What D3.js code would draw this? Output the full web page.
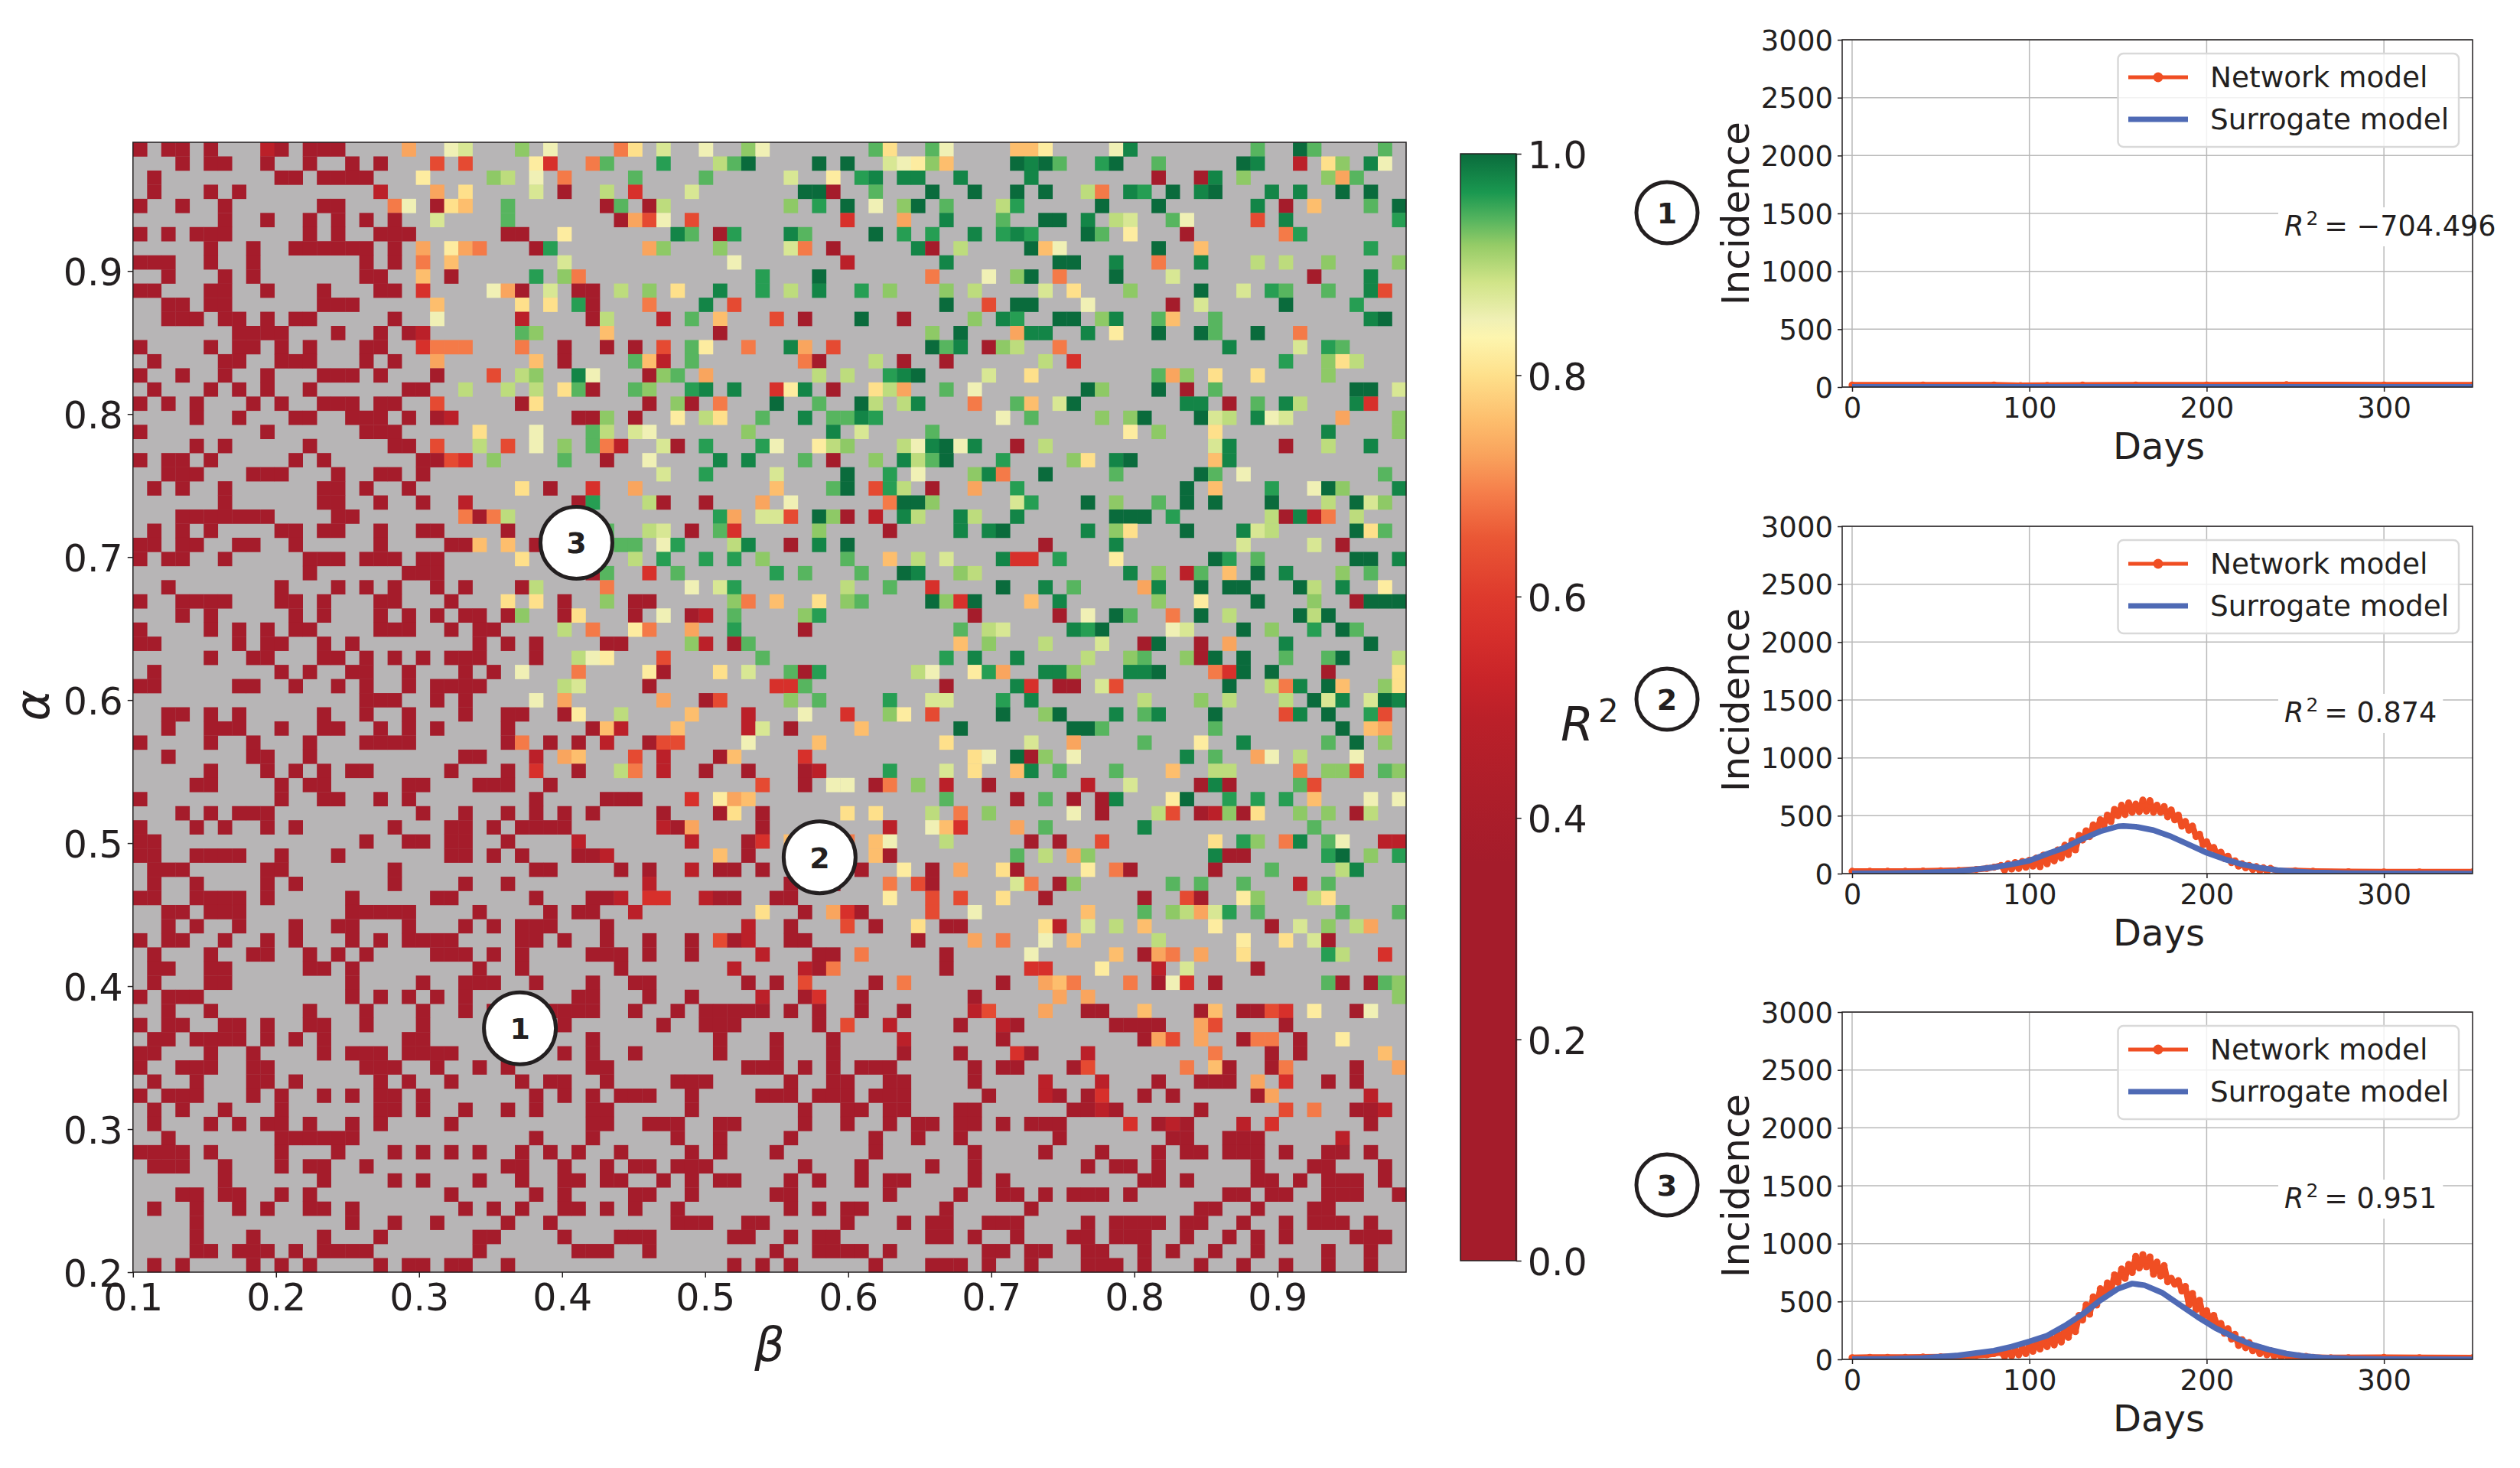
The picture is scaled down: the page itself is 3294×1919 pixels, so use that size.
<!DOCTYPE html>
<html lang="en">
<head>
<meta charset="UTF-8">
<title>R2 map and incidence curves</title>
<script src="https://d3js.org/d3.v7.min.js"></script>
<style>
    html, body { margin: 0; background: #fff; }
    text { font-family: "DejaVu Sans", sans-serif; fill: #231f20; }
</style>
</head>
<body>
<svg id="canvas" width="3294" height="1919"></svg>
<script>
// R2 value of each letter used in the grid rows
const r2Levels = {a:0.2, b:0.49, c:0.57, d:0.63, e:0.69, f:0.73, g:0.76, h:0.8, i:0.82, j:0.85,
                  k:0.875, l:0.895, m:0.92, n:0.94, o:0.96, p:0.98, q:1};

// one string per alpha row, top row first. tokens are column numbers (beta),
// "3-9" is a run, no letter means level a, columns not listed are masked (grey)
const r2Rows = [
"0 2-3 5 9b 10 12-14 19f 22j 23k 27m 29j 34e 35h 37k 40j 43m 44j 52n 53h 56n 57j 62-63g 64i 69j 70p 79n 82q 83n 88n",
"3 5-6 9 12 15 17 21d 23d 28i 29c 32e 33n 37o 41l 42n 43q 48q 50q 53k 54j 55i 56m 57g 62q 63p 64q 65n 68o 69q 72n 78q 79p 82b 84h 85m 87p 88j",
"1 10-11 13-16 20i 25m 26l 28j 30e 35n 40n 46k 49i 51o 52p 54p 55p 58p 63p 72 75 76p 78m 84m 85f 86n",
"1 5 7 17b 21f 23h 28k 30 33l 35c 39k 47-48q 49 52n 56q 59q 62q 64q 67l 68e 70p 71o 73q 75p 76q 80p 82p 85q 87q",
"0 3 6 13-14 18e 19j 21 22h 23g 26n 33 34n 36 37l 46m 48o 50q 52j 54m 55q 57n 61l 62o 68q 72q 79p 81 83g 87n 89q",
"6 9 12 14 16 18 21k 26n 34 35f 36d 37j 39d 50c 54f 57p 61n 64q 65q 67p 69l 70k 73n 74j 79d 81p 89o",
"0 2 4-6 12 14 17-19 26-27 30i 38p 39n 41 42o 46p 47n 52q 54o 56o 59p 61o 62p 63o 67q 68n 70i 74 81e 82o",
"5 8 11-16 18 20f 22i 23f 24e 28 29o 36f 37m 41m 46k 47e 49 55p 56 58l 63q 64g 65j 72q 75g 87o",
"0-2 5 8 16 18 20e 22g 30k 42j 50b 57p 65-66q 69p 72e 75p 79l 81l 84m 89m",
"2 6 8 16-17 20g 22 28o 30m 31e 44o 48q 56e 60j 62m 63q 65e 69q 73k 83 87p",
"0-1 5-6 9 13 17-18 20c 25j 26f 27 29k 31-32 34l 36m 38h 41p 44o 46l 48p 51o 53m 57m 59l 64k 66h 70m 75q 78k 80o 81n 84n 87p 88d",
"2-3 5-6 13-15 21g 27h 29h 31o 32 36e 40p 42d 57q 60d 62q 63q 67j 73 75k 81q 86o",
"2-4 6-7 9 11-12 18 21j 27b 32 33l 37b 39n 41g 45d 47 51q 54 59m 61p 62o 65q 66q 68m 69p 72n 73g 76n 87p 88q",
"7-10 14 17 19 20b 27n 28m 33g 41 56m 58q 62f 63p 64p 67p 69i 72q 75q 76n 79q 82e",
"0 5 7-8 10 12 16-17 20c 21-23e 27e 30 33 35 37d 39n 40i 43e 46p 47f 49d 56q 57n 58p 60 61m 62l 65e 77p 82k 84o 85n",
"1 6-7 10-12 16 18 21f 28g 30 35n 36g 37b 39n 47e 48 52l 54 57 64l 66c 81o 84m 85h 86l",
"0 3 6 9 13-15 17 21 25d 27l 28m 31p 32j 36 37m 38n 40f 48l 50l 53o 54p 55q 60k 63h 72n 73f 74m 76h 79h 84m",
"1 5 7 9 12 19-20 23l 26l 28l 30h 31n 32 35n 36m 39o 40p 42p 45c 46i 47p 49 52h 53l 54f 57n 59j 67q 68m 72q 74 76n 86-87q 89k",
"0 2 4 8 10 13-15 17-18 21d 27 28h 36 38m 39 41e 45q 48n 51q 52l 54l 55p 59e 62n 63g 65k 66q 74p 75p 77 79n 81p 82l 86p 87c",
"4 7 11-12 15-17 19 21 22b 31-32 33m 35 38i 40l 41h 44n 47p 49-50n 51p 52o 61j 63n 68m 70m 71q 75q 76k 77l 79p 80j 81k 85f 89m",
"0 9 16-18 24h 28j 32n 33l 35k 36j 43m 49p 51k 56n 70i 72m 76h 84p 89m",
"4 6 12 18-19 21d 24l 26d 28j 30m 32n 33e 34b 37k 38 40o 44o 45j 48i 49l 50m 54l 55j 56p 57q 58j 59p 62 64l 76k 77p 81 84l 87p",
"0 2-3 5 11 13 20-21 22d 23c 25m 30n 33 36j 41p 43p 47n 49 52m 54p 55l 56n 57q 61o 66m 67h 69p 70q 76g 77p",
"2-4 8-10 14 17-18 20 37k 40o 45k 50q 53o 55j 59m 60p 61e 64q 69n 75q 76n 78j 88n",
"1 3 6 13-14 16 19 27h 29 32c 35f 45g 49n 50q 52d 53o 54l 56 59f 62o 74q 76g 80o 83j 84q 85m 89p",
"6 13-14 17 20 23b 31 32o 36l 37 40 44f 46j 53e 54-55q 56m 62k 63o 67q 69m 72n 74q 76q 80q 84l 86q 87k 88m",
"3-9 14-15 23e 24 25e 26l 41o 42f 44k 45k 46d 48q 49m 50 52b 54p 55l 58p 59l 62p 69-71q 73o 80l 81 82p 83b 84e 86l",
"1 3 5 10-11 13-14 17 20-21 26 33n 36l 37k 39 41n 42c 48m 53 58p 60p 61q 67p 69m 70h 74q 78p 79k 80l 86q 87h 88n",
"0-1 3-4 7-8 11 17 22-23 24g 26g 28 34n 35n 37j 38o 42l 43p 46 48p 50q 64 69p 78k 83k 85",
"0 2-3 6 12-14 16-18 20-21 27h 35l 37o 40o 42o 44m 50n 53g 55l 57k 61p 62c 63c 65o 69i 76q 77o 79n 86-87q 89p",
"12 19-21 32 33n 36c 38n 45o 47n 51n 54q 55p 58m 59l 70p 72m 74b 75n 77g 79q 81p 85m 87n",
"2 10 14 16 18 21 23 27 28l 33e 39j 41k 42o 50l 53n 56c 61q 64p 66n 71f 72p 75q 77-78q 82q 83l 85p 88i",
"0 3-6 10-11 13 17-18 22 26h 28h 30 33m 35-36 42m 43e 45g 48h 50m 51n 56q 57m 58c 59q 63g 65p 72m 75i 79q 83m 86 87-89q",
"3 5 11 13 17 19 21 23-24 26 27m 30 31h 35 37j 39 40b 42n 47m 48o 59 65 67j 69q 70n 73e 75q 77l 82q 83l 84q",
"0 5 7 9 11-12 17-19 22 24-25 30l 32e 35i 36e 39f 42o 47 58n 60l 61k 66p 67o 68q 73j 74k 78q 80m 83o 85q 86n",
"0-1 7 9-10 13 15 24 26 28 33-34 39m 40b 42 43n 58g 60m 64l 68k 71 72q 75 77f 81p 87q",
"5 8-9 13-14 16 18 20 22-24 28 31l 32j 33i 37d 44n 57o 59p 62p 67l 70m 71n 74m 75 76q 78q 81n 84n 85q 89l",
"1 10 12 15-16 19 23 25 27j 31e 36i 37 41h 43k 46n 47 48o 55l 56j 59i 60o 61f 64-65p 66m 70p 71p 72q 76e 77c 78q 80q 84 89h",
"0-1 7-8 11 14 16 19 21-24 30l 31k 36 45-46c 47n 57 62p 63c 65-66 68k 69d 77q 80l 81e 82p 84q 85g 88m 89h",
"16-18 21 23 28j 30f 37f 40 41d 46m 48n 53o 56-57k 61o 63p 71l 75m 77l 81l 83q 84k 85p 87k 88q 89p",
"2-3 5 7 13 16 19 23 26-27 30 31i 34l 39g 43b 47j 50c 53m 54i 56d 61q 64m 65q 69p 71n 72p 76q 81d 82p 84q 87o 88d",
"2 5-7 10 13-14 17 19 21 26 32 33g 34b 38g 43b 44k 46 51g 58q 66-67q 68n 76n 85q 87g 88f",
"0 5 8 12 16-19 26 27e 29 31 33b 36 37-38d 43j 48g 57h 63k 66f 71n 75i 78p 84n 86q 88m",
"2 8-9 12 23-24 28b 30f 31g 35d 37b 41 42g 47c 59h 60j 62q 63 64m 66j 74p 76n 79f 80j 82l 86j",
"5 9 11 13 15-16 22 26 28c 31 34l 35e 37b 40 43 47 48b 53o 57k 59h 62g 63p 65n 69n 73g 76-77l 82e 84-85m 86d 88n 89m",
"4-5 10 12-13 19-20 24-26 29 44d 47 49-50j 52 53e 55m 57b 60 67b 70k 75 76p 77 82n 83d",
"0 10 13-14 17 19 28 33-35 39c 41i 42f 43g 57n 62 64n 66 68 69p 73i 74q 77o 79o 81o 83g 87j 89j",
"3 5 7-9 20 23 26 28 30 32 37 41 42h 44 50h 52h 56l 58e 60m 66j 68 72l 73d 75 76b 77m 78 79h 82m 84m 86 87l",
"0 4 6 9 11 18 22-23 25 27-30 37b 38 39f 44 53b 56j 57g 58c 62f 64n 71p 83n",
"0-1 16 19-20 22-23 26 31b 39b 43 44c 46g 50e 52g 53j 57l 63 65 68d 76h 78o 79m 81e 82p 84n 85j 88-89b",
"0-1 4-7 10 14 22-23 25 27 31-32 33b 41g 43 52g 53 62n 64l 66f 67m 76p 77-78 84o 85q 87m 89o",
"1-3 9-10 18 28-29 34 36 39b 41-42 44 51 54i 56 58f 61h 62 67i 69e 70 76 80n 85l 86p",
"1 4 9 11 18 23 26 36b 46 49 53e 55d 56 62k 63e 65 66m 73n 75n 78n 82b 84n",
"0-1 4-7 9 15 21-22 28 32-33 34b 36-37c 40b 41-42 45-46 53i 56d 58d 61h 64 71 74d 75 78i 79m 83l 84h",
"2-3 5-7 15-19 24 29 31-32 35b 44h 47 49f 50c 51 56d 59j 67g 71n 73m 74l 75f 76k 77o 79n 85n 89n",
"2 4 7 11 14-15 19 23 25 27-29 33 43b 46 50d 52 55h 57-58 64h 65b 67k 69l 71g 76i 80 82k 84m 86l 87f",
"0 2-3 6 9 11 15 17 19-22 27-28 30 33 36 39 41d 42 43b 46-47 55 59f 61e 64j 66g 72l 78i 81h 83k 84",
"1 5 8-9 12 14 16 21-23 25 27 32-34 36 39 44b 48-49 51e 57 63j 69g 71 72f 73e 75f 78h 84o 85l 88c",
"1-2 5-6 12-13 15 24 27 34 42b 47b 48 49e 57 63c 64c 68i 72b 74k 79",
"1 5-6 15 20 23-25 28 32 35-36 43 45 47d 52 54e 61 64f 65g 66e 70e 72 73j 74c 76 84n 85 87 88n 89m",
"0 2-4 15 17 19 21 23 31-32 36 39 44b 47 48c 51 59 65f 67f 89m",
"2 5 12 16 20 23 25 29-32 35 38 40-44 46 48 51 54 59b 60d 64f 67-68 71g 75 76g 78-79 80d 81c 83i 86 87j",
"0 2-3 6-7 9 12-13 16 20 30 37 40-42 48 50d 53b 58 61b 62 69-72 75f 76d 81",
"1-2 4-7 9 11 13 19-20 32 41 45 49 54b 61 71 72f 73d 75f 78 79e 80e 82 85i",
"0-1 5 8 13 15-17 19-22 30 32 35 41 45 49 54 58 62c 63 67b 76e 80 82 88g",
"0 3-5 8-9 16-18 21 24 26 32-33 43-45 47 49 51-53 59 61-62 66 67d 74e 76g 77 80 81e 86 89f",
"1 4 8-9 11 17 19 22 27 29-30 33 38-40 46 49-50 53-54 59 64b 68b 72 75 76 77 79f 81c 84 86",
"0 2-4 8 10 13 15 17-18 20 28 30 32 34-36 39 44-46 48-50 52-54 60 64b 65 67 68c 71 73 79 80f 87b",
"1 3 6 10 17-18 20 23 26 28 32-33 39 47 50-51 53-54 58-59 66-67 68b 69 75 81d 83e 86-87 88b",
"1 5 7 9-10 12 15 17 22 32-33 36-38 41-42 47 50 53 55-56 58-59 61 63-65 70c 72 73b 74 78b 80c 87",
"2 10-15 28 32 38 41 46 52 55 58 65 73-74 77-79 85b",
"0-3 5 10 14 18 20 22 24 27 29 31 34 39 41 45 52 59 64 68 72 74-75 77-79 81 84-85 87",
"1-3 6 10 12-13 16 26-27 30 33 35-36 38-40 47 51 56 59 67 69-70 72 79 83-84 88",
"6 13 18 20 24 27 30-31 33-34 37 39 41-42 46 48 51 53-54 59 61 71-72 74 79-80 82 84-86 88",
"3-4 6-7 10 12 22 28 30 35-36 39 45-46 53 58 61-62 64 66-68 70 77-78 80-81 84-86 89",
"1 4 7 9 12-13 15 23 25 27 30-31 33 35 38 46 48 50-51 57 63 75-76 79 83-84",
"4 15 18 21 26 29 38-40 43-44 50 54 56-57 60-62 67 69-72 74-75 78 81 83-85 87",
"4 8 13 17 24-25 30 34-36 42-43 46 48-49 56-57 59 62 66-67 69-71 74 77 79 81 86-88",
"4-5 7-9 11 13-16 24 31-33 36 45 48-51 53 60-61 63-64 67-68 71 73 76 79 84 87",
"1 3 8 10 12 17 19-20 22-23 26 42 44 46 52 56-58 60 63 67-69 71 75 78 81 84 87"
];

// colour map
const colorStops = [0, .36, .425, .49, .526, .566, .6, .653, .693, .727, .76, .8, .834, .85, .884, .917, .94, .965, 1];
const colorValues = ["#a51c2b","#a51c2b","#ae1e2a","#bb2029","#c92429","#d62f2b","#de3a2d","#ea5735","#f57d4a","#f9a25c",
                     "#fdbe6d","#fee08b","#fdf5ae","#f0f0b5","#d0e488","#96cc67","#57b55f","#1a9850","#0a6b3c"];

const betaTicks = [0.1, 0.2, 0.3, 0.4, 0.5, 0.6, 0.7, 0.8, 0.9];
const alphaTicks = [0.2, 0.3, 0.4, 0.5, 0.6, 0.7, 0.8, 0.9];
const r2Ticks = [0, 0.2, 0.4, 0.6, 0.8, 1];
const dayTicks = [0, 100, 200, 300];
const incidenceTicks = [0, 500, 1000, 1500, 2000, 2500, 3000];

// picked points on the map: [beta, alpha, label]
const pickedPoints = [[0.3705, 0.3705, "1"], [0.58, 0.49, "2"], [0.41, 0.71, "3"]];

// incidence curves
const net1Days = [0, 40, 80, 95, 110, 130, 160, 200, 245, 300, 350];
const net1Vals = [18, 18, 18, 13, 15, 17, 18, 18, 20, 18, 18];
const sur1Days = [0, 100, 200, 300, 350];
const sur1Vals = [2, 2, 2, 2, 2];

const net2Days = [0, 10, 20, 30, 40, 50, 60, 70, 76, 80].concat(d3.range(84, 238, 2), [240, 250, 260, 280, 300, 320, 350]);
const net2Vals = [20, 20, 20, 20, 22, 24, 28, 36, 45, 55,
    70,30,85,40,95,45,105,55,115,65,
    135,60,160,85,175,110,205,135,245,165,
    285,205,330,290,370,320,420,370,465,415,
    505,450,555,500,590,510,610,530,600,535,
    635,540,630,530,590,530,580,490,550,465,
    505,410,450,375,410,320,340,250,275,215,
    225,165,185,130,150,95,110,65,85,50,
    70,35,60,25,50,20,45,
    22, 24, 20, 16, 15, 15, 15];
const sur2Days = [0, 20, 40, 60, 80, 90, 100, 110, 120, 130, 140, 150, 153, 160, 170, 180, 190, 200, 210, 220, 230, 240, 250, 260, 280, 300, 350];
const sur2Vals = [2, 3, 8, 20, 55, 80, 112, 170, 225, 300, 365, 408, 412, 405, 375, 320, 250, 180, 125, 80, 50, 30, 18, 10, 3, 1, 0];

const net3Days = [0, 10, 20, 30, 40, 50, 60, 70, 76, 80].concat(d3.range(84, 258, 2), [260, 270, 280, 300, 320, 350]);
const net3Vals = [15, 18, 18, 18, 20, 22, 26, 35, 40, 50,
    60,25,75,30,85,40,100,50,125,70,
    145,90,170,110,190,125,225,150,265,190,
    310,240,380,340,470,390,540,470,610,540,
    660,590,730,665,780,700,820,750,890,790,
    905,800,885,735,840,720,810,670,700,650,
    680,590,630,470,570,430,510,370,420,330,
    380,290,310,225,265,175,215,120,170,100,
    145,75,110,50,90,40,75,30,55,20,
    45,20,35,15,30,15,25,
    18, 14, 15, 17, 15, 14];
const sur3Days = [0, 20, 40, 60, 80, 90, 100, 110, 120, 130, 140, 150, 158, 165, 175, 185, 195, 205, 215, 225, 235, 245, 255, 265, 280, 300, 350];
const sur3Vals = [2, 4, 12, 35, 75, 110, 155, 205, 290, 390, 510, 610, 655, 640, 575, 470, 365, 270, 195, 130, 85, 50, 28, 15, 6, 2, 0];

const panels = [
    {id: 1, top: 52,   label: "1", r2: "\u2212704.496", netDays: net1Days, netVals: net1Vals, surDays: sur1Days, surVals: sur1Vals},
    {id: 2, top: 688,  label: "2", r2: "0.874",         netDays: net2Days, netVals: net2Vals, surDays: sur2Days, surVals: sur2Vals},
    {id: 3, top: 1323, label: "3", r2: "0.951",         netDays: net3Days, netVals: net3Vals, surDays: sur3Days, surVals: sur3Vals}
];

const ink = "#231f20";
const netColor = "#f04e23";
const surColor = "#4f6ab5";
const svg = d3.select("#canvas");
const color = d3.scaleLinear().domain(colorStops).range(colorValues);

function parseRows(rows) {
    let cells = [];
    rows.forEach(function (row, r) {
        row.split(" ").forEach(function (tok) {
            let m = tok.match(/^(\d+)(?:-(\d+))?([a-q])?$/);
            let from = +m[1], to = m[2] ? +m[2] : from;
            for (let c = from; c <= to; c++) {
                cells.push({col: c, row: r, value: r2Levels[m[3] || "a"]});
            }
        });
    });
    return cells;
}

function styleAxis(g, size) {
    g.select(".domain").remove();
    g.selectAll("line").attr("stroke", ink).attr("stroke-width", 1.5);
    g.selectAll("text").attr("font-size", size).attr("fill", ink)
        .style("font-family", "'DejaVu Sans', sans-serif");
}

// ---- heat map
const mapLeft = 173.8, mapRight = 1838, mapTop = 186, mapBottom = 1663;
const xBeta = d3.scaleLinear().domain([0.1, 0.99]).range([mapLeft, mapRight]);
const yAlpha = d3.scaleLinear().domain([0.2, 0.99]).range([mapBottom, mapTop]);
const colBand = d3.scaleBand().domain(d3.range(90)).range([mapLeft, mapRight]);
const rowBand = d3.scaleBand().domain(d3.range(80)).range([mapTop, mapBottom]);

svg.append("rect").attr("x", mapLeft).attr("y", mapTop)
    .attr("width", mapRight - mapLeft).attr("height", mapBottom - mapTop).attr("fill", "#b7b5b6");

svg.append("g").selectAll("rect")
    .data(parseRows(r2Rows))
    .enter().append("rect")
    .attr("x", d => colBand(d.col))
    .attr("y", d => rowBand(d.row))
    .attr("width", colBand.bandwidth() + 0.3)
    .attr("height", rowBand.bandwidth() + 0.3)
    .attr("fill", d => color(d.value));

svg.append("rect").attr("x", mapLeft).attr("y", mapTop)
    .attr("width", mapRight - mapLeft).attr("height", mapBottom - mapTop)
    .attr("fill", "none").attr("stroke", ink).attr("stroke-width", 1.5);

let xMapAxis = svg.append("g").attr("transform", `translate(0,${mapBottom})`)
    .call(d3.axisBottom(xBeta).tickValues(betaTicks).tickFormat(d3.format(".1f")).tickSize(7).tickPadding(8));
styleAxis(xMapAxis, 49);

let yMapAxis = svg.append("g").attr("transform", `translate(${mapLeft},0)`)
    .call(d3.axisLeft(yAlpha).tickValues(alphaTicks).tickFormat(d3.format(".1f")).tickSize(7).tickPadding(6));
styleAxis(yMapAxis, 49);
yMapAxis.selectAll("text").attr("dy", "0.38em");

svg.append("text").attr("x", 1006).attr("y", 1779).attr("text-anchor", "middle")
    .attr("font-size", 62).attr("font-style", "italic").text("\u03b2");
svg.append("text").attr("transform", "translate(64,922) rotate(-90)").attr("text-anchor", "middle")
    .attr("font-size", 62).attr("font-style", "italic").text("\u03b1");

let points = svg.append("g").selectAll("g").data(pickedPoints).enter().append("g")
    .attr("transform", d => `translate(${xBeta(d[0])},${yAlpha(d[1])})`);
points.append("circle").attr("r", 47).attr("fill", "#fff").attr("stroke", ink).attr("stroke-width", 5);
points.append("text").attr("text-anchor", "middle").attr("y", 14).attr("font-size", 38)
    .attr("font-weight", "bold").text(d => d[2]);

// ---- colour bar
const barLeft = 1909, barRight = 1981.7, barTop = 201, barBottom = 1648;
const yBar = d3.scaleLinear().domain([0, 1]).range([barBottom, barTop]);
let grad = svg.append("defs").append("linearGradient").attr("id", "barFill")
    .attr("x1", 0).attr("x2", 0).attr("y1", 1).attr("y2", 0);
grad.selectAll("stop").data(colorStops).enter().append("stop")
    .attr("offset", d => d)
    .attr("stop-color", (d, i) => colorValues[i]);
svg.append("rect").attr("x", barLeft).attr("y", barTop)
    .attr("width", barRight - barLeft + 1.5).attr("height", barBottom - barTop).attr("fill", "url(#barFill)");
svg.append("rect").attr("x", barLeft).attr("y", barTop)
    .attr("width", barRight - barLeft).attr("height", barBottom - barTop)
    .attr("fill", "none").attr("stroke", ink).attr("stroke-width", 1.5);
let barAxis = svg.append("g").attr("transform", `translate(${barRight},0)`)
    .call(d3.axisRight(yBar).tickValues(r2Ticks).tickFormat(d3.format(".1f")).tickSize(7).tickPadding(8));
styleAxis(barAxis, 49);
barAxis.selectAll("text").attr("dy", "0.38em");

let barLabel = svg.append("text").attr("x", 2040).attr("y", 968);
barLabel.append("tspan").attr("font-size", 62).attr("font-style", "italic").text("R");
barLabel.append("tspan").attr("font-size", 42).attr("dx", 6).attr("dy", -24).text("2");

// ---- incidence panels
const panelLeft = 2408, panelRight = 3232, panelHeight = 454;
const xDays = d3.scaleLinear().domain([-5.6, 350]).range([panelLeft, panelRight]);

function drawPanel(p) {
    let g = svg.append("g").attr("transform", `translate(0,${p.top})`);
    let y = d3.scaleLinear().domain([0, 3000]).range([panelHeight, 0]);

    g.append("clipPath").attr("id", "clip" + p.id).append("rect")
        .attr("x", panelLeft).attr("y", 0).attr("width", panelRight - panelLeft).attr("height", panelHeight);

    let grid = g.append("g").attr("stroke", "#b9b9b9").attr("stroke-width", 1.5);
    grid.selectAll(".gx").data(dayTicks).enter().append("line").attr("class", "gx")
        .attr("x1", d => xDays(d)).attr("x2", d => xDays(d)).attr("y1", 0).attr("y2", panelHeight);
    grid.selectAll(".gy").data(incidenceTicks).enter().append("line").attr("class", "gy")
        .attr("x1", panelLeft).attr("x2", panelRight).attr("y1", d => y(d)).attr("y2", d => y(d));

    // R2 text sits on a white box that hides the grid
    let note = g.append("g");
    let noteBox = note.append("rect").attr("fill", "#fff");
    let noteText = note.append("text").attr("x", 2986).attr("y", 256).attr("font-size", 36.6);
    noteText.append("tspan").attr("font-style", "italic").text("R");
    noteText.append("tspan").attr("font-size", 25).attr("dx", 3).attr("dy", -14).text("2");
    noteText.append("tspan").attr("dx", 8).attr("dy", 14).text("= " + p.r2);
    let bb = noteText.node().getBBox();
    noteBox.attr("x", bb.x - 8).attr("y", 219).attr("height", 51)
        .attr("width", Math.min(bb.width + 16, panelRight - bb.x + 8));

    let plot = g.append("g").attr("clip-path", `url(#clip${p.id})`);
    let net = p.netDays.map((d, i) => [d, p.netVals[i]]);
    let sur = p.surDays.map((d, i) => [d, p.surVals[i]]);
    let line = d3.line().x(d => xDays(d[0])).y(d => y(d[1]));

    plot.append("path").attr("d", line(net)).attr("fill", "none")
        .attr("stroke", netColor).attr("stroke-width", 8).attr("stroke-linejoin", "round");
    plot.selectAll("circle").data(net).enter().append("circle")
        .attr("cx", d => xDays(d[0])).attr("cy", d => y(d[1])).attr("r", 4.6).attr("fill", netColor);
    plot.append("path").attr("d", line(sur)).attr("fill", "none")
        .attr("stroke", surColor).attr("stroke-width", 7.5).attr("stroke-linejoin", "round");

    g.append("rect").attr("x", panelLeft).attr("y", 0)
        .attr("width", panelRight - panelLeft).attr("height", panelHeight)
        .attr("fill", "none").attr("stroke", ink).attr("stroke-width", 1.5);

    let xAxis = g.append("g").attr("transform", `translate(0,${panelHeight})`)
        .call(d3.axisBottom(xDays).tickValues(dayTicks).tickSize(6).tickPadding(8));
    styleAxis(xAxis, 37);
    let yAxis = g.append("g").attr("transform", `translate(${panelLeft},0)`)
        .call(d3.axisLeft(y).tickValues(incidenceTicks).tickFormat(d3.format("d")).tickSize(6).tickPadding(6));
    styleAxis(yAxis, 37);
    yAxis.selectAll("text").attr("dy", "0.36em");

    g.append("text").attr("x", 2822).attr("y", 548).attr("text-anchor", "middle")
        .attr("font-size", 48).text("Days");
    g.append("text").attr("transform", "translate(2286,227) rotate(-90)").attr("text-anchor", "middle")
        .attr("font-size", 50).text("Incidence");

    // legend
    let legend = g.append("g");
    legend.append("rect").attr("x", 2768.5).attr("y", 18).attr("width", 445.5).attr("height", 122).attr("rx", 7)
        .attr("fill", "#fff").attr("fill-opacity", 0.8).attr("stroke", "#d9d9d9").attr("stroke-width", 2.5);
    legend.append("line").attr("x1", 2782).attr("x2", 2860).attr("y1", 49).attr("y2", 49)
        .attr("stroke", netColor).attr("stroke-width", 5);
    legend.append("circle").attr("cx", 2821).attr("cy", 49).attr("r", 6.5).attr("fill", netColor);
    legend.append("line").attr("x1", 2782).attr("x2", 2860).attr("y1", 104).attr("y2", 104)
        .attr("stroke", surColor).attr("stroke-width", 7);
    legend.append("text").attr("x", 2889).attr("y", 62).attr("font-size", 37.4).text("Network model");
    legend.append("text").attr("x", 2889).attr("y", 117).attr("font-size", 37.4).text("Surrogate model");

    // circled number
    g.append("circle").attr("cx", 2179).attr("cy", 226).attr("r", 40).attr("fill", "#fff")
        .attr("stroke", ink).attr("stroke-width", 5);
    g.append("text").attr("x", 2179).attr("y", 240).attr("text-anchor", "middle")
        .attr("font-size", 38).attr("font-weight", "bold").text(p.label);
}

panels.forEach(drawPanel);
</script>
</body>
</html>
